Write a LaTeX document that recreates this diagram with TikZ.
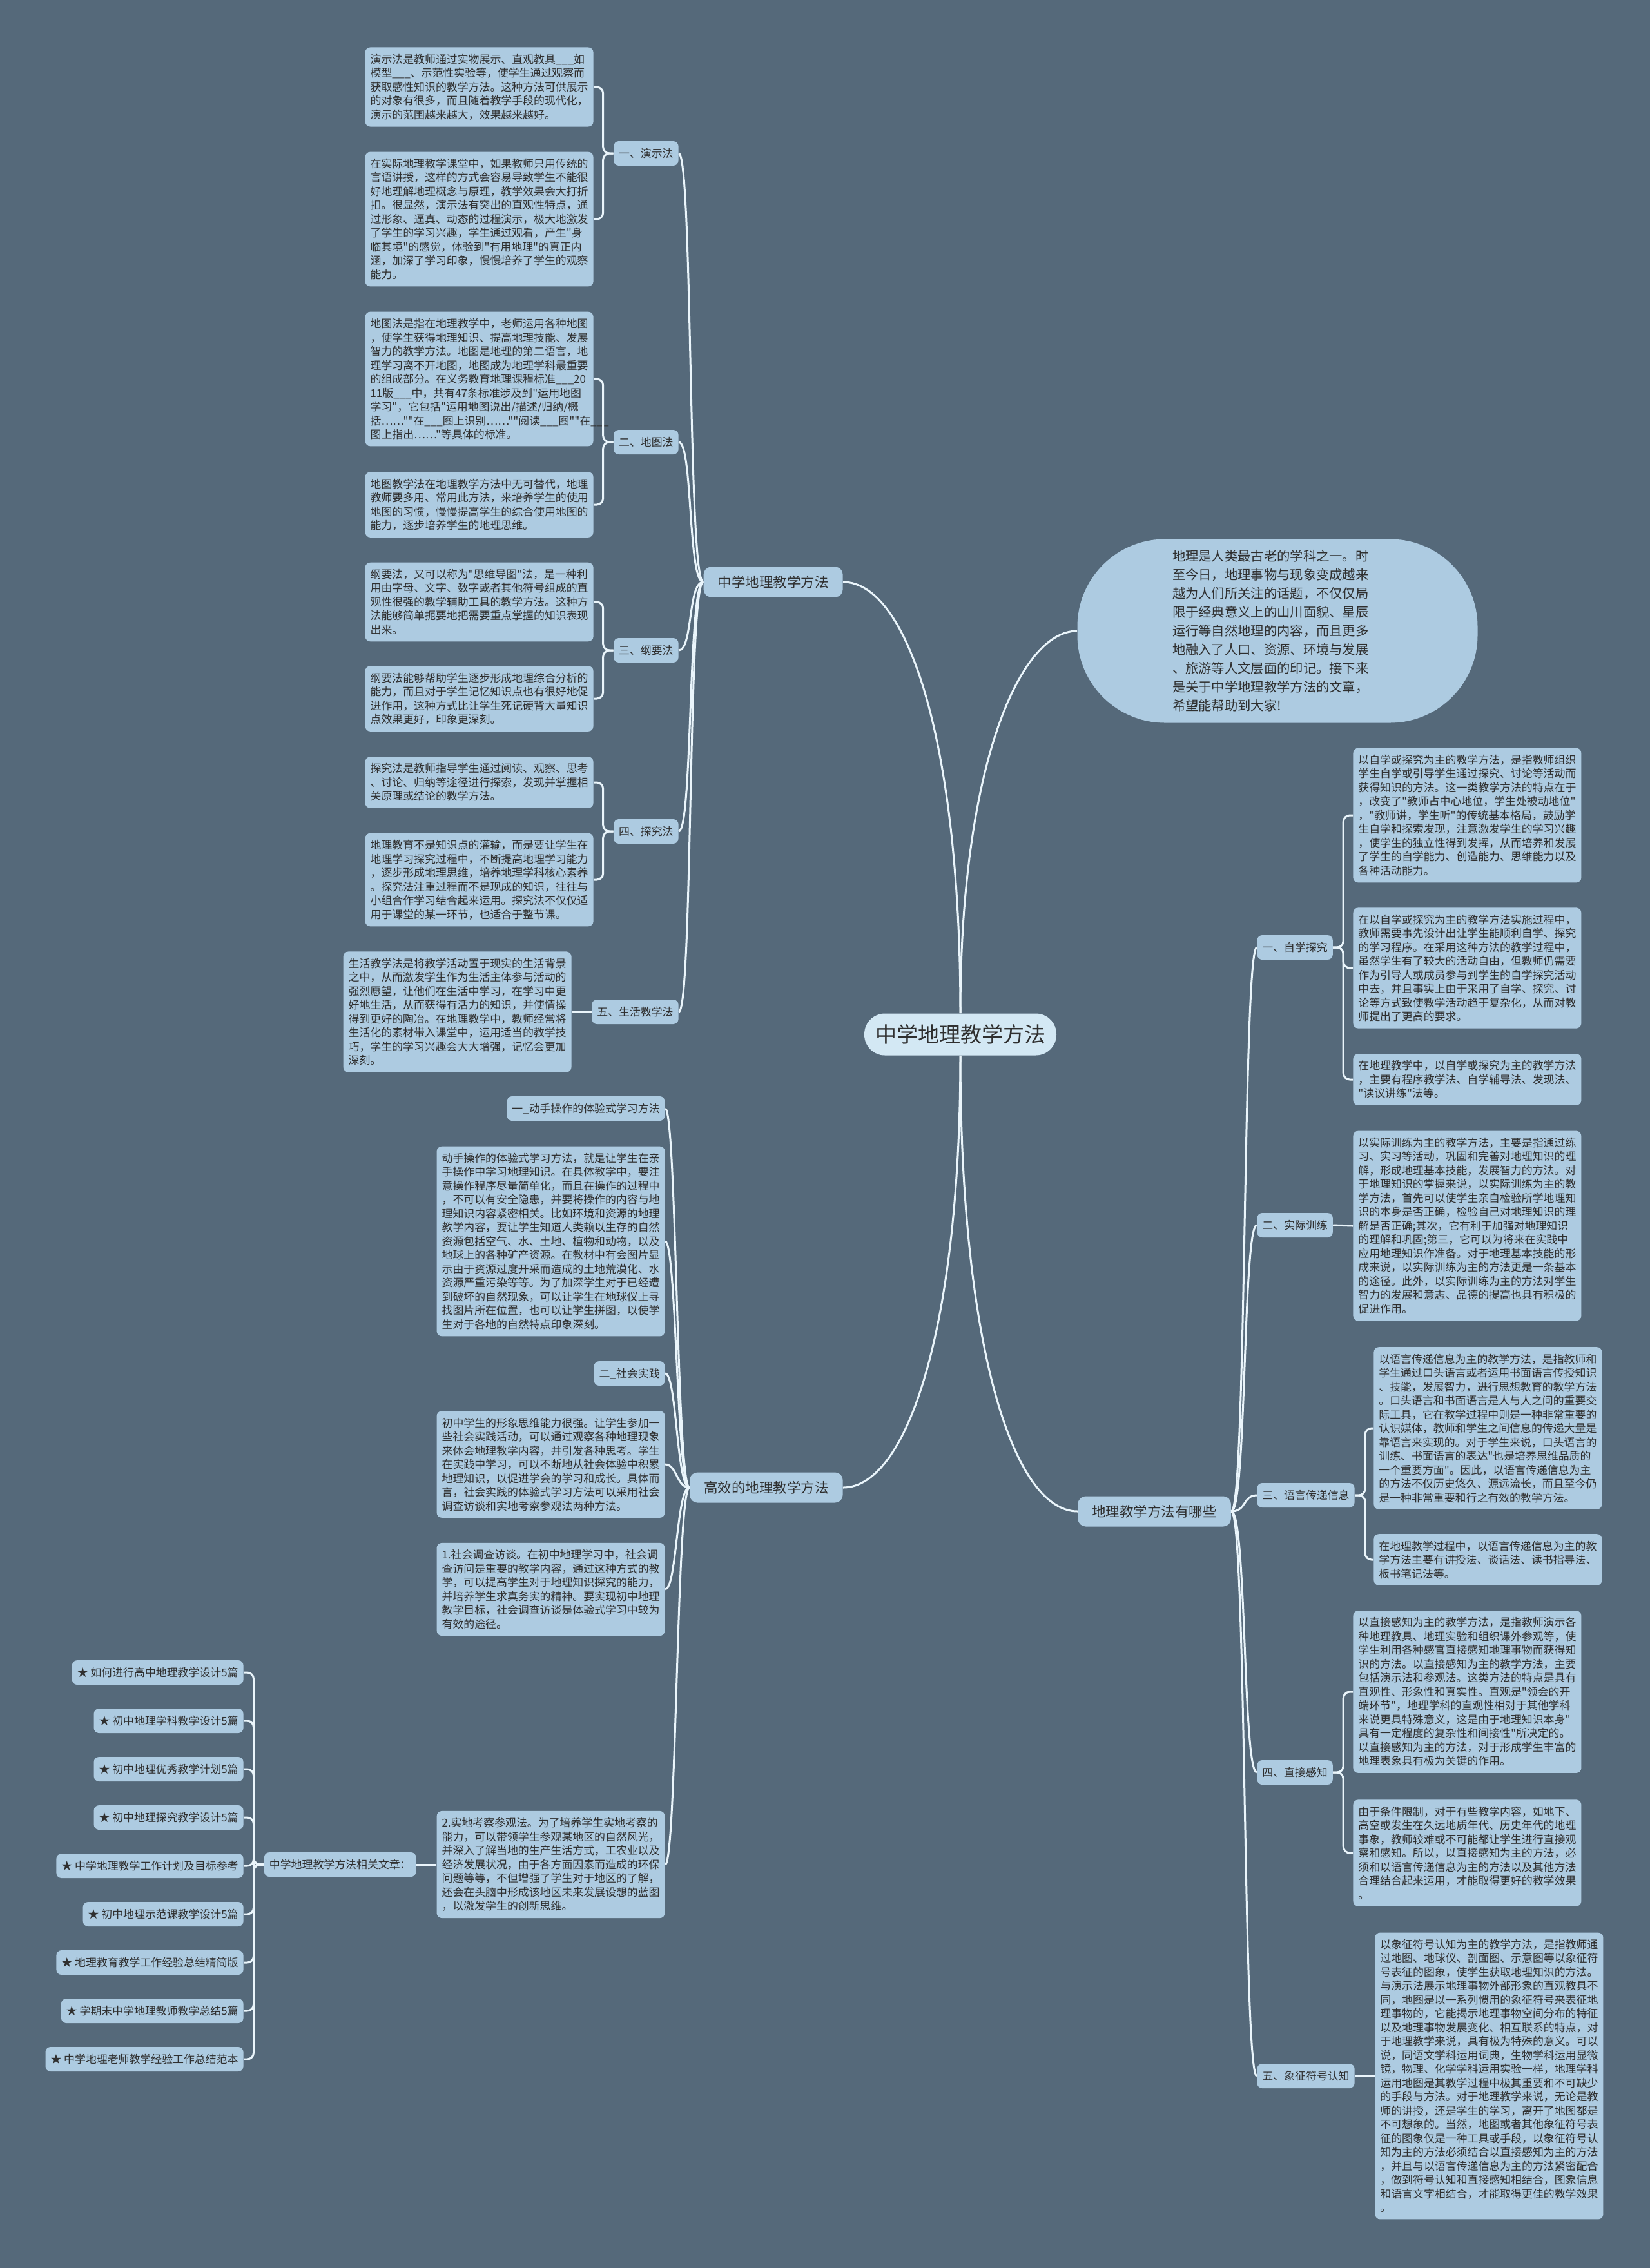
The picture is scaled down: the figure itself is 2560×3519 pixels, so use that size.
\documentclass[tikz,border=0pt]{standalone}
\usepackage{fontspec}
\setmainfont{Noto Sans CJK SC}[Ligatures=TeXOff]
\usetikzlibrary{positioning,calc}
\definecolor{bgslate}{HTML}{55697A}
\definecolor{nodeblue}{HTML}{ADCBE1}
\definecolor{rootblue}{HTML}{D3E8F4}
\definecolor{linewhite}{HTML}{EAF5FB}
\definecolor{inkgray}{HTML}{2F2F2F}

\begin{document}
\begin{tikzpicture}[x=0.5pt,y=-0.5pt,
  link/.style={draw=linewhite, line width=1.5pt},
  bracket/.style={link, rounded corners=5pt},
  leaf/.style={fill=nodeblue, rounded corners=4pt, text=inkgray, align=left, text width=169pt, inner xsep=4pt, inner ysep=5.25pt, font=\fontsize{8.45pt}{10.75pt}\selectfont},
  sub/.style={fill=nodeblue, rounded corners=4pt, text=inkgray, inner xsep=4pt, inner ysep=0pt, minimum height=19pt, font=\fontsize{8.45pt}{10.75pt}\selectfont},
  topic/.style={fill=nodeblue, rounded corners=6pt, text=inkgray, inner xsep=11pt, inner ysep=0pt, minimum height=23.5pt, font=\fontsize{10.75pt}{13pt}\selectfont},
  hub/.style={fill=rootblue, rounded corners=16pt, text=inkgray, inner xsep=8.5pt, inner ysep=0pt, minimum height=32.5pt, font=\fontsize{16.5pt}{20pt}\selectfont},
  intro/.style={fill=nodeblue, rounded corners=68pt, text=inkgray, align=left, text width=163pt, minimum width=310.5pt, minimum height=142.5pt, font=\fontsize{10.15pt}{14.5pt}\selectfont}]
\fill[bgslate] (0,0) rectangle (2560,3519);
\useasboundingbox (0,0) rectangle (2560,3519);

\node[hub] (root) at (1490,1605) {中学地理教学方法};
\node[intro] (intro) at (1982,979) {地理是人类最古老的学科之一。时\\至今日，地理事物与现象变成越来\\越为人们所关注的话题，不仅仅局\\限于经典意义上的山川面貌、星辰\\运行等自然地理的内容，而且更多\\地融入了人口、资源、环境与发展\\、旅游等人文层面的印记。接下来\\是关于中学地理教学方法的文章，\\希望能帮助到大家!};
\node[topic, anchor=east] (zxff) at (1308,903) {中学地理教学方法};
\node[topic, anchor=east] (gxff) at (1308,2308) {高效的地理教学方法};
\node[topic, anchor=west] (nyx) at (1672,2345) {地理教学方法有哪些};

\node[sub, anchor=east] (yanshi) at (1053,238) {一、演示法};
\node[sub, anchor=east] (ditu) at (1053,686) {二、地图法};
\node[sub, anchor=east] (gangyao) at (1053,1009) {三、纲要法};
\node[sub, anchor=east] (tanjiu) at (1053,1290) {四、探究法};
\node[sub, anchor=east] (shenghuo) at (1053,1570) {五、生活教学法};

\node[leaf, anchor=east] (ys1) at (921,135) {演示法是教师通过实物展示、直观教具\_\_\_如\\模型\_\_\_、示范性实验等，使学生通过观察而\\获取感性知识的教学方法。这种方法可供展示\\的对象有很多，而且随着教学手段的现代化，\\演示的范围越来越大，效果越来越好。};
\node[leaf, anchor=east] (ys2) at (921,340) {在实际地理教学课堂中，如果教师只用传统的\\言语讲授，这样的方式会容易导致学生不能很\\好地理解地理概念与原理，教学效果会大打折\\扣。很显然，演示法有突出的直观性特点，通\\过形象、逼真、动态的过程演示，极大地激发\\了学生的学习兴趣，学生通过观看，产生"身\\临其境"的感觉，体验到"有用地理"的真正内\\涵，加深了学习印象，慢慢培养了学生的观察\\能力。};
\node[leaf, anchor=east] (dt1) at (921,588) {地图法是指在地理教学中，老师运用各种地图\\，使学生获得地理知识、提高地理技能、发展\\智力的教学方法。地图是地理的第二语言，地\\理学习离不开地图，地图成为地理学科最重要\\的组成部分。在义务教育地理课程标准\_\_\_20\\11版\_\_\_中，共有47条标准涉及到"运用地图\\学习"，它包括"运用地图说出/描述/归纳/概\\括……""在\_\_\_图上识别……""阅读\_\_\_图""在\_\_\_\\图上指出……"等具体的标准。};
\node[leaf, anchor=east] (dt2) at (921,783) {地图教学法在地理教学方法中无可替代，地理\\教师要多用、常用此方法，来培养学生的使用\\地图的习惯，慢慢提高学生的综合使用地图的\\能力，逐步培养学生的地理思维。};
\node[leaf, anchor=east] (gy1) at (921,934) {纲要法，又可以称为"思维导图"法，是一种利\\用由字母、文字、数字或者其他符号组成的直\\观性很强的教学辅助工具的教学方法。这种方\\法能够简单扼要地把需要重点掌握的知识表现\\出来。};
\node[leaf, anchor=east] (gy2) at (921,1084) {纲要法能够帮助学生逐步形成地理综合分析的\\能力，而且对于学生记忆知识点也有很好地促\\进作用，这种方式比让学生死记硬背大量知识\\点效果更好，印象更深刻。};
\node[leaf, anchor=east] (tj1) at (921,1214) {探究法是教师指导学生通过阅读、观察、思考\\、讨论、归纳等途径进行探索，发现并掌握相\\关原理或结论的教学方法。};
\node[leaf, anchor=east] (tj2) at (921,1365) {地理教育不是知识点的灌输，而是要让学生在\\地理学习探究过程中，不断提高地理学习能力\\，逐步形成地理思维，培养地理学科核心素养\\。探究法注重过程而不是现成的知识，往往与\\小组合作学习结合起来运用。探究法不仅仅适\\用于课堂的某一环节，也适合于整节课。};
\node[leaf, anchor=east] (sh1) at (887,1570) {生活教学法是将教学活动置于现实的生活背景\\之中，从而激发学生作为生活主体参与活动的\\强烈愿望，让他们在生活中学习，在学习中更\\好地生活，从而获得有活力的知识，并使情操\\得到更好的陶冶。在地理教学中，教师经常将\\生活化的素材带入课堂中，运用适当的教学技\\巧，学生的学习兴趣会大大增强，记忆会更加\\深刻。};

\node[sub, anchor=east] (dongshou) at (1032,1720) {一\_动手操作的体验式学习方法};
\node[leaf, anchor=east] (ds1) at (1032,1926) {动手操作的体验式学习方法，就是让学生在亲\\手操作中学习地理知识。在具体教学中，要注\\意操作程序尽量简单化，而且在操作的过程中\\，不可以有安全隐患，并要将操作的内容与地\\理知识内容紧密相关。比如环境和资源的地理\\教学内容，要让学生知道人类赖以生存的自然\\资源包括空气、水、土地、植物和动物，以及\\地球上的各种矿产资源。在教材中有会图片显\\示由于资源过度开采而造成的土地荒漠化、水\\资源严重污染等等。为了加深学生对于已经遭\\到破坏的自然现象，可以让学生在地球仪上寻\\找图片所在位置，也可以让学生拼图，以使学\\生对于各地的自然特点印象深刻。};
\node[sub, anchor=east] (shehui) at (1032,2131) {二\_社会实践};
\node[leaf, anchor=east] (sj1) at (1032,2272) {初中学生的形象思维能力很强。让学生参加一\\些社会实践活动，可以通过观察各种地理现象\\来体会地理教学内容，并引发各种思考。学生\\在实践中学习，可以不断地从社会体验中积累\\地理知识，以促进学会的学习和成长。具体而\\言，社会实践的体验式学习方法可以采用社会\\调查访谈和实地考察参观法两种方法。};
\node[leaf, anchor=east] (ft1) at (1032,2466) {1.社会调查访谈。在初中地理学习中，社会调\\查访问是重要的教学内容，通过这种方式的教\\学，可以提高学生对于地理知识探究的能力，\\并培养学生求真务实的精神。要实现初中地理\\教学目标，社会调查访谈是体验式学习中较为\\有效的途径。};
\node[leaf, anchor=east] (kc1) at (1032,2893) {2.实地考察参观法。为了培养学生实地考察的\\能力，可以带领学生参观某地区的自然风光，\\并深入了解当地的生产生活方式，工农业以及\\经济发展状况，由于各方面因素而造成的环保\\问题等等，不但增强了学生对于地区的了解，\\还会在头脑中形成该地区未来发展设想的蓝图\\，以激发学生的创新思维。};
\node[sub, anchor=east] (xgwz) at (646,2893) {中学地理教学方法相关文章：};
\foreach \t [count=\i] in {如何进行高中地理教学设计5篇, 初中地理学科教学设计5篇, 初中地理优秀教学计划5篇, 初中地理探究教学设计5篇, 中学地理教学工作计划及目标参考, 初中地理示范课教学设计5篇, 地理教育教学工作经验总结精简版, 学期末中学地理教师教学总结5篇, 中学地理老师教学经验工作总结范本}
  \node[sub, anchor=east] (star\i) at (378,{2595+75*(\i-1)}) {★ \t};

\node[sub, anchor=west] (zixue) at (1950,1470) {一、自学探究};
\node[sub, anchor=west] (xunlian) at (1950,1901) {二、实际训练};
\node[sub, anchor=west] (yuyan) at (1950,2320) {三、语言传递信息};
\node[sub, anchor=west] (zhijie) at (1950,2750) {四、直接感知};
\node[sub, anchor=west] (xiangzheng) at (1950,3221) {五、象征符号认知};

\node[leaf, anchor=west] (zx1) at (2099,1265) {以自学或探究为主的教学方法，是指教师组织\\学生自学或引导学生通过探究、讨论等活动而\\获得知识的方法。这一类教学方法的特点在于\\，改变了"教师占中心地位，学生处被动地位"\\，"教师讲，学生听"的传统基本格局，鼓励学\\生自学和探索发现，注意激发学生的学习兴趣\\，使学生的独立性得到发挥，从而培养和发展\\了学生的自学能力、创造能力、思维能力以及\\各种活动能力。};
\node[leaf, anchor=west] (zx2) at (2099,1502) {在以自学或探究为主的教学方法实施过程中，\\教师需要事先设计出让学生能顺利自学、探究\\的学习程序。在采用这种方法的教学过程中，\\虽然学生有了较大的活动自由，但教师仍需要\\作为引导人或成员参与到学生的自学探究活动\\中去，并且事实上由于采用了自学、探究、讨\\论等方式致使教学活动趋于复杂化，从而对教\\师提出了更高的要求。};
\node[leaf, anchor=west] (zx3) at (2099,1675) {在地理教学中，以自学或探究为主的教学方法\\，主要有程序教学法、自学辅导法、发现法、\\"读议讲练"法等。};
\node[leaf, anchor=west] (xl1) at (2099,1902) {以实际训练为主的教学方法，主要是指通过练\\习、实习等活动，巩固和完善对地理知识的理\\解，形成地理基本技能，发展智力的方法。对\\于地理知识的掌握来说，以实际训练为主的教\\学方法，首先可以使学生亲自检验所学地理知\\识的本身是否正确，检验自己对地理知识的理\\解是否正确;其次，它有利于加强对地理知识\\的理解和巩固;第三，它可以为将来在实践中\\应用地理知识作准备。对于地理基本技能的形\\成来说，以实际训练为主的方法更是一条基本\\的途径。此外，以实际训练为主的方法对学生\\智力的发展和意志、品德的提高也具有积极的\\促进作用。};
\node[leaf, anchor=west] (yy1) at (2131,2216) {以语言传递信息为主的教学方法，是指教师和\\学生通过口头语言或者运用书面语言传授知识\\、技能，发展智力，进行思想教育的教学方法\\。口头语言和书面语言是人与人之间的重要交\\际工具，它在教学过程中则是一种非常重要的\\认识媒体，教师和学生之间信息的传递大量是\\靠语言来实现的。对于学生来说，口头语言的\\训练、书面语言的表达"也是培养思维品质的\\一个重要方面"。因此，以语言传递信息为主\\的方法不仅历史悠久、源远流长，而且至今仍\\是一种非常重要和行之有效的教学方法。};
\node[leaf, anchor=west] (yy2) at (2131,2420) {在地理教学过程中，以语言传递信息为主的教\\学方法主要有讲授法、谈话法、读书指导法、\\板书笔记法等。};
\node[leaf, anchor=west] (zj1) at (2099,2625) {以直接感知为主的教学方法，是指教师演示各\\种地理教具、地理实验和组织课外参观等，使\\学生利用各种感官直接感知地理事物而获得知\\识的方法。以直接感知为主的教学方法，主要\\包括演示法和参观法。这类方法的特点是具有\\直观性、形象性和真实性。直观是"领会的开\\端环节"，地理学科的直观性相对于其他学科\\来说更具特殊意义，这是由于地理知识本身"\\具有一定程度的复杂性和间接性"所决定的。\\以直接感知为主的方法，对于形成学生丰富的\\地理表象具有极为关键的作用。};
\node[leaf, anchor=west] (zj2) at (2099,2875) {由于条件限制，对于有些教学内容，如地下、\\高空或发生在久远地质年代、历史年代的地理\\事象，教师较难或不可能都让学生进行直接观\\察和感知。所以，以直接感知为主的方法，必\\须和以语言传递信息为主的方法以及其他方法\\合理结合起来运用，才能取得更好的教学效果\\。};
\node[leaf, anchor=west] (xz1) at (2133,3221) {以象征符号认知为主的教学方法，是指教师通\\过地图、地球仪、剖面图、示意图等以象征符\\号表征的图象，使学生获取地理知识的方法。\\与演示法展示地理事物外部形象的直观教具不\\同，地图是以一系列惯用的象征符号来表征地\\理事物的，它能揭示地理事物空间分布的特征\\以及地理事物发展变化、相互联系的特点，对\\于地理教学来说，具有极为特殊的意义。可以\\说，同语文学科运用词典，生物学科运用显微\\镜，物理、化学学科运用实验一样，地理学科\\运用地图是其教学过程中极其重要和不可缺少\\的手段与方法。对于地理教学来说，无论是教\\师的讲授，还是学生的学习，离开了地图都是\\不可想象的。当然，地图或者其他象征符号表\\征的图象仅是一种工具或手段，以象征符号认\\知为主的方法必须结合以直接感知为主的方法\\，并且与以语言传递信息为主的方法紧密配合\\，做到符号认知和直接感知相结合，图象信息\\和语言文字相结合，才能取得更佳的教学效果\\。};

\draw[link] (root.north) .. controls +(0,-420) and +(100,0) .. (zxff.east);
\draw[link] (root.north) .. controls +(0,-380) and +(-90,0) .. (intro.west);
\draw[link] (root.south) .. controls +(0,420) and +(100,0) .. (gxff.east);
\draw[link] (root.south) .. controls +(0,450) and +(-100,0) .. (nyx.west);

\foreach \c in {yanshi,ditu,gangyao,tanjiu,shenghuo}
  \draw[link] (zxff.west) .. controls +(-24,0) and +(22,0) .. (\c.east);
\foreach \c in {dongshou,ds1,shehui,sj1,ft1,kc1}
  \draw[link] (gxff.west) .. controls +(-20,0) and +(18,0) .. (\c.east);
\foreach \c in {zixue,xunlian,yuyan,zhijie,xiangzheng}
  \draw[link] (nyx.east) .. controls +(24,0) and +(-22,0) .. (\c.west);

\foreach \p/\c in {yanshi/ys1,yanshi/ys2,ditu/dt1,ditu/dt2,gangyao/gy1,gangyao/gy2,tanjiu/tj1,tanjiu/tj2}
  \draw[bracket] (\p.west) -- ++(-16,0) |- (\c.east);
\draw[link] (shenghuo.west) -- (sh1.east);
\draw[link] (kc1.west) -- (xgwz.east);
\foreach \i in {1,...,9}
  \draw[bracket] (xgwz.west) -- ++(-16,0) |- (star\i.east);

\foreach \p/\c in {zixue/zx1,zixue/zx2,zixue/zx3,yuyan/yy1,yuyan/yy2,zhijie/zj1,zhijie/zj2}
  \draw[bracket] (\p.east) -- ++(16,0) |- (\c.west);
\draw[link] (xunlian.east) -- (xl1.west);
\draw[link] (xiangzheng.east) -- (xz1.west);
\end{tikzpicture}
\end{document}
